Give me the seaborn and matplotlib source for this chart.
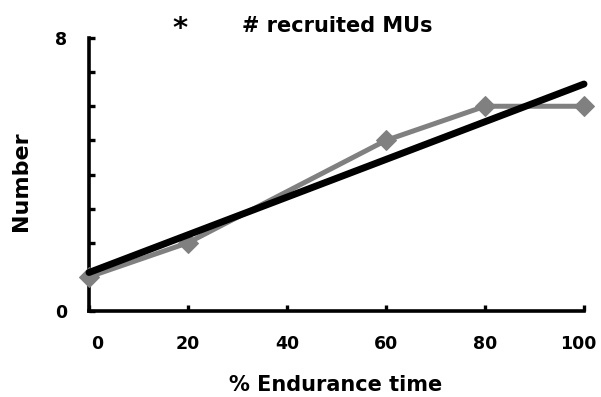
import matplotlib
matplotlib.use("Agg")
import matplotlib.pyplot as plt
from matplotlib.ticker import FixedLocator, FixedFormatter
from matplotlib.transforms import ScaledTranslation
import seaborn as sns
import pandas as pd

# Recruited motor units over the course of the endurance task
endurance_pct = [0, 20, 60, 80, 100]
recruited_mus = [1, 2, 5, 6, 6]
y_ticks = [0, 1, 2, 3, 4, 5, 6, 7, 8]
y_tick_labels = ["0", "", "", "", "", "", "", "", "8"]
x_ticks = [0, 20, 40, 60, 80, 100]
x_tick_labels = ["0", "20", "40", "60", "80", "100"]

df = pd.DataFrame({"pct": endurance_pct, "mus": recruited_mus})

sns.set_style("white")
plt.rcParams["font.family"] = ["DejaVu Sans"]
plt.rcParams["font.weight"] = "bold"
plt.rcParams["text.color"] = "black"
plt.rcParams["axes.labelcolor"] = "black"

fig = plt.figure(figsize=(6.01, 3.97), dpi=100)
ax = fig.add_axes([89 / 601, 1 - 311 / 397, (584 - 89) / 601, (311 - 38) / 397])

sns.lineplot(data=df, x="pct", y="mus", ax=ax, color="#808080", lw=3.6,
             marker="D", markersize=10, markeredgecolor="#808080",
             clip_on=False, zorder=3)
sns.regplot(data=df, x="pct", y="mus", ax=ax, scatter=False, ci=None,
            color="black", line_kws={"lw": 5, "zorder": 4, "clip_on": False})

ax.set_xlim(0, 100)
ax.set_ylim(0, 8)
ax.xaxis.set_major_locator(FixedLocator(x_ticks))
ax.xaxis.set_major_formatter(FixedFormatter(x_tick_labels))
ax.yaxis.set_major_locator(FixedLocator(y_ticks))
ax.yaxis.set_major_formatter(FixedFormatter(y_tick_labels))

for side in ("top", "right"):
    ax.spines[side].set_visible(False)
for side in ("left", "bottom"):
    ax.spines[side].set_linewidth(2.6)
    ax.spines[side].set_color("black")

ax.tick_params(axis="both", direction="in", length=4, width=2.4,
               color="black", labelsize=12.5, labelcolor="black")
ax.tick_params(axis="x", pad=17, bottom=True)
ax.tick_params(axis="y", pad=16, left=True)
for lbl in ax.get_xticklabels() + ax.get_yticklabels():
    lbl.set_fontweight("bold")

# keep the end labels of the x axis inside the plot width
xlabels = ax.get_xticklabels()
xlabels[0].set_transform(xlabels[0].get_transform()
                         + ScaledTranslation(8 / 100, 0, fig.dpi_scale_trans))
xlabels[-1].set_transform(xlabels[-1].get_transform()
                          + ScaledTranslation(-6 / 100, 0, fig.dpi_scale_trans))

ax.set_xlabel("")
ax.set_ylabel("")
fig.text(336 / 601, 1 - 391 / 397, "% Endurance time", ha="center",
         va="baseline", fontsize=15, fontweight="bold", color="black")
fig.text(21 / 601, 1 - 181 / 397, "Number", ha="center", va="center",
         rotation=90, fontsize=16, fontweight="bold", color="black")
fig.text(180 / 601, 1 - 37 / 397, "*", ha="center", va="baseline",
         fontsize=21, fontweight="bold", color="black")
fig.text(242 / 601, 1 - 32 / 397, "# recruited MUs", ha="left",
         va="baseline", fontsize=15, fontweight="bold", color="black")

fig.savefig("out.png", dpi=100, facecolor="white")
